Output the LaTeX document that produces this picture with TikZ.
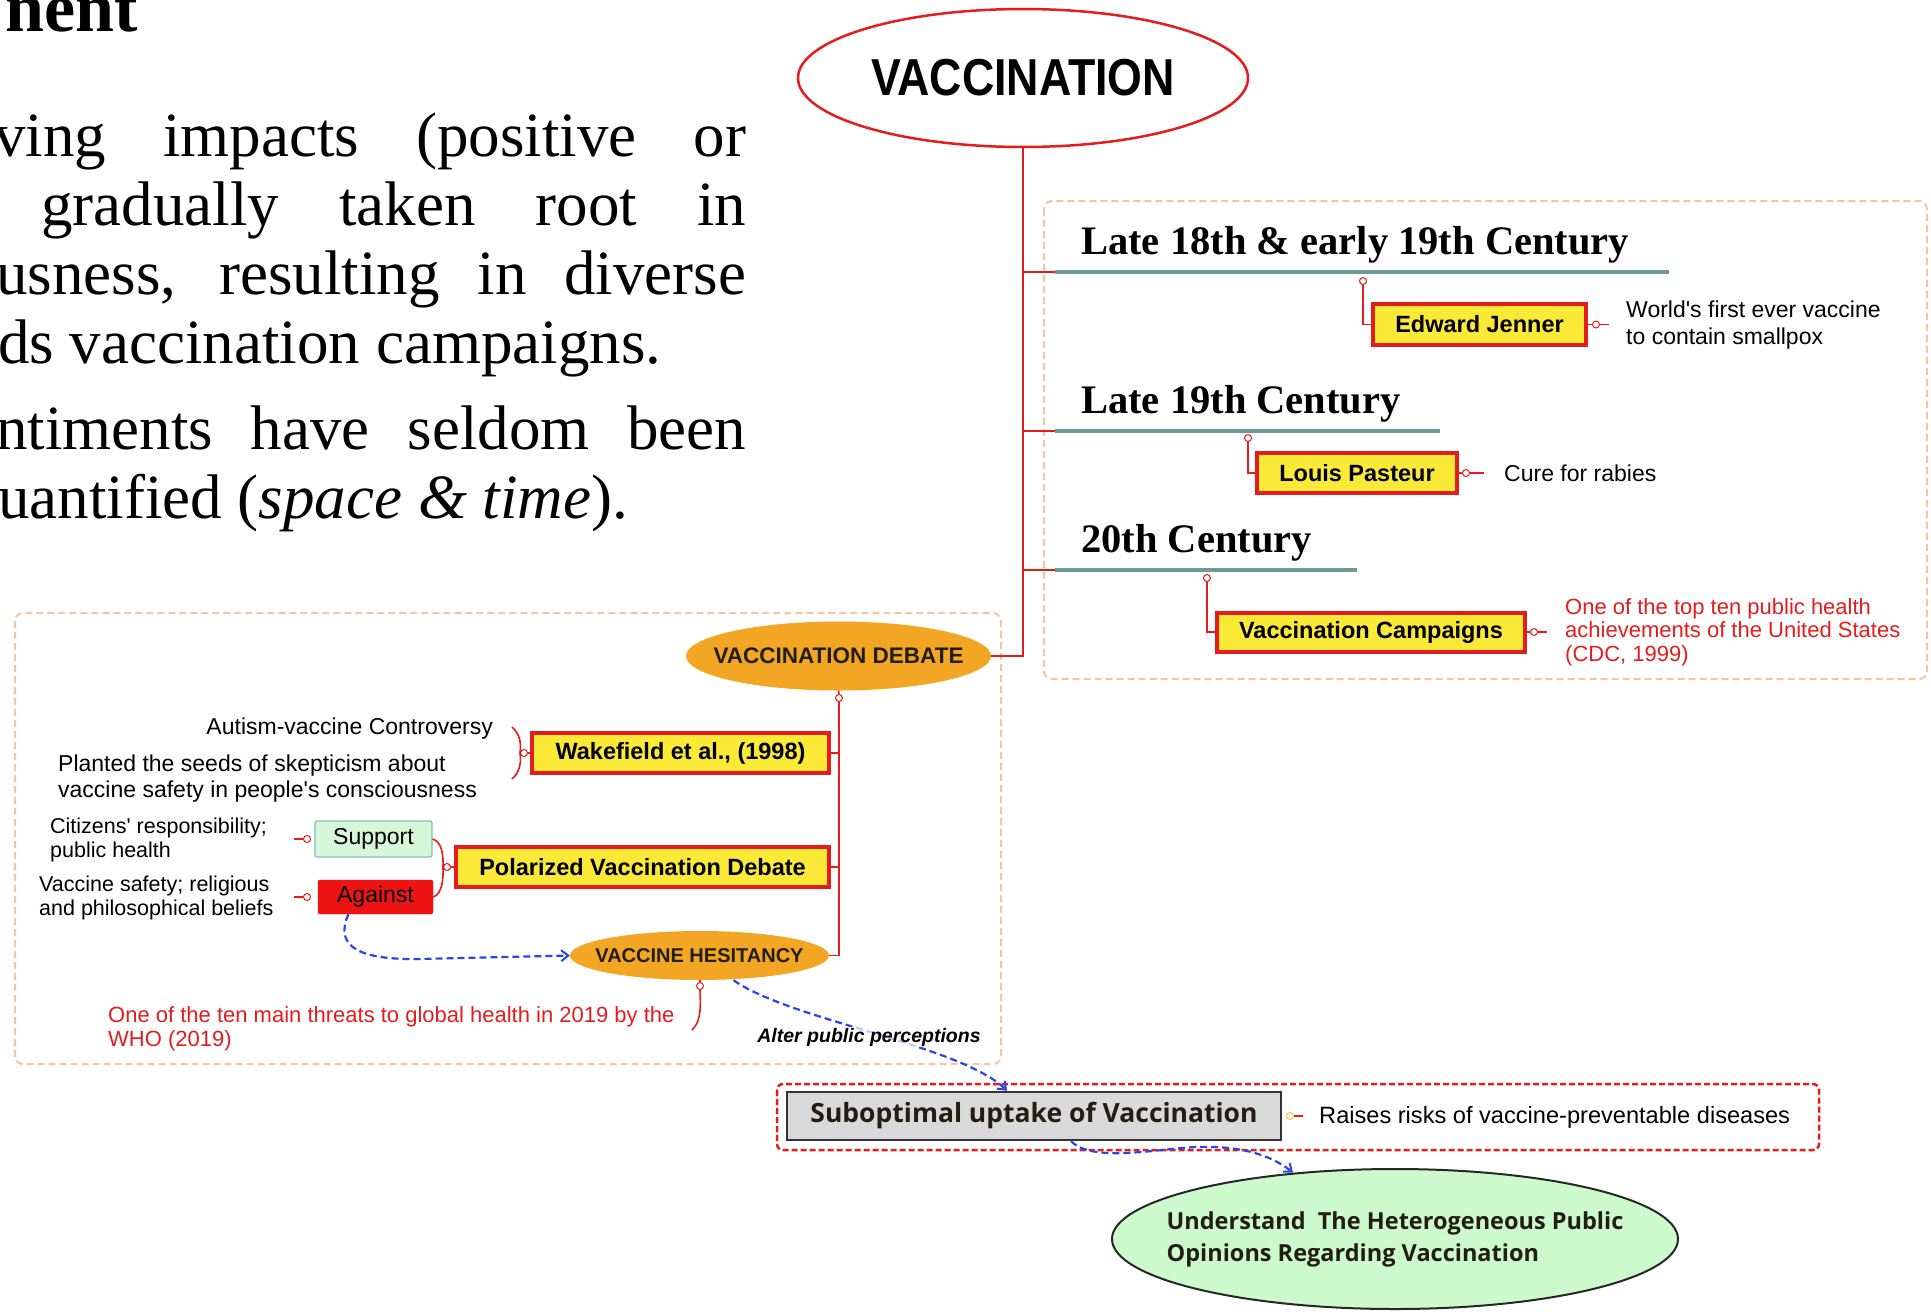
\documentclass[tikz,border=0pt]{standalone}
\usepackage{fontspec}
\setmainfont{Liberation Serif}
\newfontfamily\lsans{Liberation Sans}
\newfontfamily\vacfont[FakeStretch=0.86]{Liberation Sans}
\newfontfamily\osans{Open Sans}
\usetikzlibrary{arrows.meta,shapes.geometric,calc}
\definecolor{mred}{RGB}{228,28,28}
\definecolor{myellow}{RGB}{250,233,55}
\definecolor{morange}{RGB}{243,166,35}
\definecolor{mpeach}{RGB}{245,196,160}
\definecolor{mteal}{RGB}{108,154,148}
\definecolor{mblue}{RGB}{40,70,225}
\definecolor{msupfill}{RGB}{214,246,218}
\definecolor{msupdraw}{RGB}{125,195,185}
\definecolor{mgreen}{RGB}{205,250,205}
\definecolor{mgrey}{RGB}{217,217,217}
\definecolor{mtext}{RGB}{35,30,20}
\definecolor{magainst}{RGB}{238,20,20}
\definecolor{mdotyel}{RGB}{235,200,90}
\tikzset{
 redline/.style={draw=mred, line width=1.6pt},
 yellowbox/.style={draw=mred, fill=myellow, line width=4pt, inner sep=0pt, font=\lsans\bfseries\fontsize{23.5}{26}\selectfont, text=black},
 dot/.style={circle, draw=mred, fill=white, line width=1pt, inner sep=0pt, minimum size=7pt},
 eraline/.style={draw=mteal, line width=4pt},
 eratext/.style={anchor=base west, inner sep=0pt, font=\bfseries\fontsize{40.5}{44}\selectfont},
 note/.style={inner sep=0pt, align=left, font=\lsans\fontsize{23}{27}\selectfont},
 peachbox/.style={draw=mpeach, line width=2pt, dash pattern=on 7pt off 4pt, rounded corners=8pt},
 bluearrow/.style={draw=mblue, line width=2.2pt, dash pattern=on 7pt off 4pt, -{Straight Barb[length=7pt,width=11pt,line width=2pt]}},
 bodyline/.style={anchor=base west, inner sep=0pt, font=\fontsize{63}{69}\selectfont},
 orangeell/.style={ellipse, fill=morange, inner sep=0pt},
 ellabel/.style={inner sep=0pt, text=mtext},
}
\begin{document}
\begin{tikzpicture}[x=1pt,y=-1pt]
\useasboundingbox (0,0) rectangle (1931,1312);

% ---------- left slide text ----------
\node[bodyline, anchor=base east, font=\bfseries\fontsize{70}{70}\selectfont] (head) at (138,31) {nent};
\node[bodyline] (l1) at (-6,156) {\makebox[752pt][s]{ving impacts (positive or}};
\node[bodyline] (l2) at (41,225) {\makebox[705pt][s]{gradually taken root in}};
\node[bodyline] (l3) at (-4,294) {\makebox[750pt][s]{usness, resulting in diverse}};
\node[bodyline] (l4) at (-2,363) {ds vaccination campaigns.};
\node[bodyline] (l5) at (-4,449) {\makebox[750pt][s]{ntiments have seldom been}};
\node[bodyline] (l6) at (-2,518) {uantified (\textit{space \& time}).};

% ---------- frames ----------
\draw[peachbox] (1044,201) rectangle (1927,679);
\draw[peachbox] (15,613) rectangle (1001,1064);
\draw[draw=mred, line width=2.5pt, dash pattern=on 6pt off 3pt, rounded corners=6pt] (777,1084) rectangle (1819,1150);

% ---------- root ----------
\node[ellipse, draw=mred, line width=2.5pt, fill=white, minimum width=450pt, minimum height=138pt, inner sep=0pt] (vac) at (1023,78) {};
\node[ellabel, text=black, font=\vacfont\bfseries\fontsize{52}{52}\selectfont] (vaclabel) at (vac.center) {VACCINATION};

% ---------- eras ----------
\node[eratext] (e1) at (1081,254) {Late 18th \& early 19th Century};
\coordinate (u1a) at (1055,272); \coordinate (u1b) at (1669,272);
\node[eratext] (e2) at (1081,413) {Late 19th Century};
\coordinate (u2a) at (1055,431); \coordinate (u2b) at (1440,431);
\node[eratext] (e3) at (1081,552) {20th Century};
\coordinate (u3a) at (1055,570); \coordinate (u3b) at (1357,570);

\node[yellowbox, minimum width=213pt, minimum height=41pt] (jen) at (1479.5,324.5) {Edward Jenner};
\node[yellowbox, minimum width=200pt, minimum height=40pt] (pas) at (1357,473) {Louis Pasteur};
\node[yellowbox, minimum width=308pt, minimum height=39pt] (cam) at (1371,632) {Vaccination Campaigns};

\node[dot] (d1) at (1363,281) {};
\node[dot] (d1r) at (1596,324.5) {};
\node[dot] (d2) at (1248,438) {};
\node[dot] (d2r) at (1466,473) {};
\node[dot] (d3) at (1207,578) {};
\node[dot] (d3r) at (1534,632) {};

\node[note, anchor=west] (n1) at (1626,325.5) {World's first ever vaccine\\to contain smallpox};
\node[note, anchor=west] (n2) at (1504,473) {Cure for rabies};
\node[note, anchor=west, text=mred, font=\lsans\fontsize{22}{23.5}\selectfont] (n3) at (1565,632)
  {One of the top ten public health\\achievements of the United States\\(CDC, 1999)};

% ---------- debate ----------
\node[orangeell, minimum width=305pt, minimum height=69pt] (deb) at (838.5,656) {};
\node[ellabel, font=\lsans\bfseries\fontsize{22.5}{24}\selectfont] (deblabel) at (deb.center) {VACCINATION DEBATE};
\node[dot] (dc) at (839,698) {};
\node[yellowbox, minimum width=297pt, minimum height=40pt] (wk) at (680.5,753) {Wakefield et al., (1998)};
\node[yellowbox, minimum width=373pt, minimum height=40pt] (pol) at (642.5,867) {Polarized Vaccination Debate};
\node[orangeell, minimum width=259pt, minimum height=49pt] (hes) at (699.5,955.5) {};
\node[ellabel, font=\lsans\bfseries\fontsize{20}{22}\selectfont] (heslabel) at (hes.center) {VACCINE HESITANCY};
\node[dot] (hd) at (700,986) {};

\node[dot] (wkd) at (524,753) {};
\coordinate (wkt) at (512,727); \coordinate (wkb) at (512,779);
\node[note, anchor=east] (aut) at (493,729) {Autism-vaccine Controversy};
\node[note, anchor=west, font=\lsans\fontsize{23}{26}\selectfont] (pl) at (58,779) {Planted the seeds of skepticism about\\vaccine safety in people's consciousness};

\node[draw=msupdraw, fill=msupfill, line width=1.2pt, rounded corners=2pt, minimum width=117pt, minimum height=36pt, inner sep=0pt,
      font=\lsans\fontsize{23}{25}\selectfont] (sup) at (373.5,839) {Support};
\node[draw=magainst, fill=magainst, rounded corners=2pt, minimum width=115pt, minimum height=34pt, inner sep=0pt,
      font=\lsans\fontsize{23}{25}\selectfont] (ag) at (375.5,897) {Against};
\node[dot] (supd) at (307,839) {};
\node[dot] (agd) at (307,897) {};
\node[dot] (pold) at (447,867) {};
\node[note, anchor=west, font=\lsans\fontsize{21.5}{24}\selectfont] (cit) at (50,839.5) {Citizens' responsibility;\\public health};
\node[note, anchor=west, font=\lsans\fontsize{21.5}{24}\selectfont] (saf) at (39,897.5) {Vaccine safety; religious\\and philosophical beliefs};
\node[note, anchor=west, text=mred, font=\lsans\fontsize{22}{24}\selectfont] (who) at (108,1029) {One of the ten main threats to global health in 2019 by the\\WHO (2019)};
\coordinate (hwho) at (692,1030);

% ---------- bottom ----------
\node[draw=black!80, line width=2.5pt, fill=mgrey, minimum width=494pt, minimum height=48pt, inner sep=0pt,
      font=\osans\bfseries\fontsize{26.5}{28}\selectfont, text=mtext] (sub) at (1034,1116) {Suboptimal uptake of Vaccination};
\node[circle, draw=mdotyel, fill=white, line width=1pt, minimum size=7pt, inner sep=0pt] (subd) at (1290,1116) {};
\node[note, anchor=west, font=\lsans\fontsize{23.6}{26}\selectfont] (rai) at (1319,1117) {Raises risks of vaccine-preventable diseases};
\node[ellipse, draw=black!85, line width=2pt, fill=mgreen, minimum width=566pt, minimum height=140pt, inner sep=0pt] (und) at (1395,1239) {};
\node[ellabel, align=left, font=\osans\bfseries\fontsize{23.5}{32}\selectfont] (undlabel) at (und.center)
      {Understand\ \ The Heterogeneous Public\\Opinions Regarding Vaccination};

% ---------- connectors ----------
\draw[redline] (vac.south) |- (deb.east);
\draw[redline] (vac.south |- u1a) -- (u1a);
\draw[redline] (vac.south |- u2a) -- (u2a);
\draw[redline] (vac.south |- u3a) -- (u3a);
\draw[eraline] (u1a) -- (u1b);
\draw[eraline] (u2a) -- (u2b);
\draw[eraline] (u3a) -- (u3b);

\draw[redline] (d1.south) |- (jen.west);
\draw[redline] (jen.east) -- (d1r.west);
\draw[redline] (d1r.east) -- ++(9,0);
\draw[redline] (d2.south) |- (pas.west);
\draw[redline] (pas.east) -- (d2r.west);
\draw[redline] (d2r.east) -- ++(14,0);
\draw[redline] (d3.south) |- (cam.west);
\draw[redline] (cam.east) -- (d3r.west);
\draw[redline] (d3r.east) -- ++(9,0);

\draw[redline] (deb.south) -- (dc.north);
\draw[redline] (dc.south) |- (hes.east);
\draw[redline] (wk.east) -- (wk.east -| dc.south);
\draw[redline] (pol.east) -- (pol.east -| dc.south);

\draw[redline] (wkd.east) -- (wk.west);
\draw[redline] (wkt) .. controls (521,735) and (521,745) .. (wkd.west) .. controls (521,761) and (521,771) .. (wkb);
\draw[redline] (pold.east) -- (pol.west);
\draw[redline] (sup.east) .. controls (442,842) and (443.5,855) .. (pold.west) .. controls (443.5,880) and (442,894) .. (ag.east);
\draw[redline] (supd.west) -- ++(-9,0);
\draw[redline] (agd.west) -- ++(-9,0);
\draw[redline] (hes.south -| hd) -- (hd.north);
\draw[redline] (hd.south) .. controls (701,1012) and (700,1022) .. (hwho);

\draw[redline] (subd.east) -- ++(9,0);

\draw[bluearrow] ([xshift=-27pt]ag.south) .. controls (333,948) and (362,960) .. (420,959) -- (hes.west);
\draw[bluearrow] ([xshift=34pt]hes.south) .. controls (790,1020) and (960,1045) .. ([xshift=-27pt]sub.north);
\node[font=\lsans\bfseries\itshape\fontsize{19.5}{21}\selectfont, fill=white, fill opacity=0.7, text opacity=1, inner sep=1pt] (alt) at (869,1037) {Alter public perceptions};
\draw[bluearrow] ([xshift=37pt]sub.south) .. controls (1090,1160) and (1140,1152) .. (1182,1148) .. controls (1225,1144) and (1265,1150) .. (und.147);
\end{tikzpicture}
\end{document}
